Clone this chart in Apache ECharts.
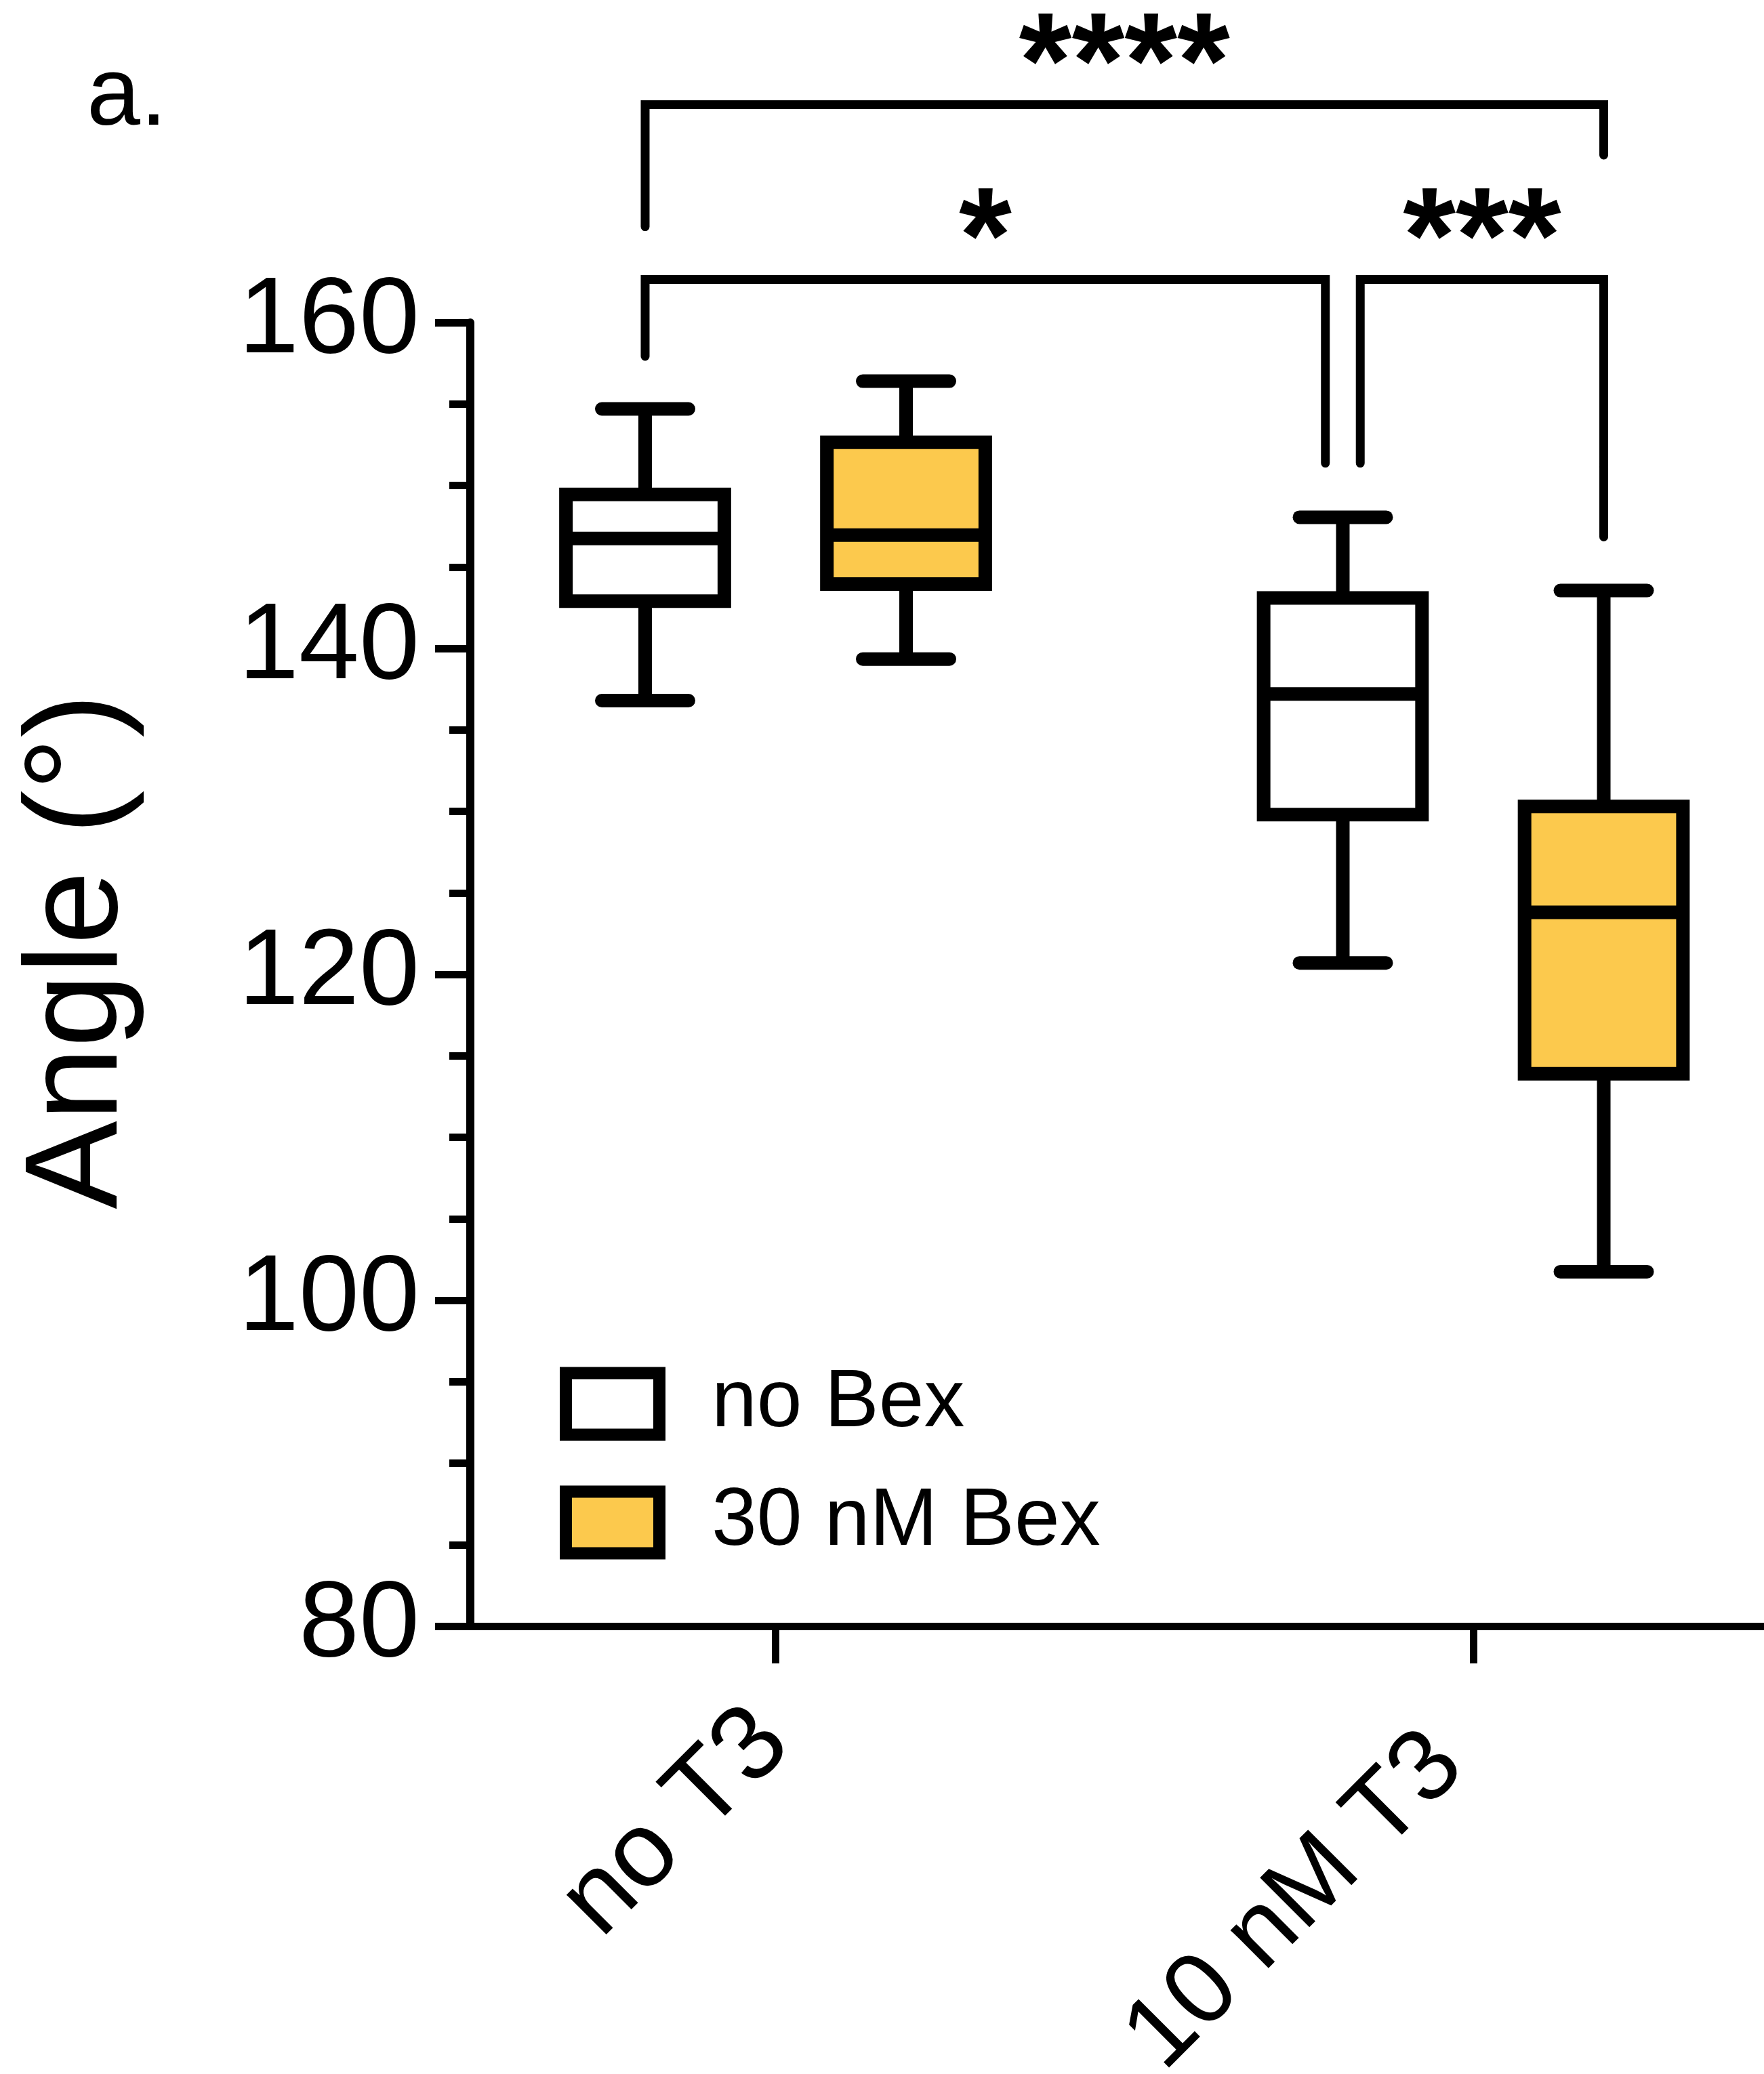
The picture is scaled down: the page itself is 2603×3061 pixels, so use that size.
<!DOCTYPE html>
<html>
<head>
<meta charset="utf-8">
<script src="https://cdn.jsdelivr.net/npm/echarts@6/dist/echarts.min.js"></script>
<style>
  html, body { margin: 0; padding: 0; background: #fff; }
  #chart { width: 2603px; height: 3061px; }
</style>
</head>
<body>
<div id="chart"></div>
<script>
// ---- Data ----
const categories = ['no T3', '10 nM T3'];
const categoryPos = [1, 3];
const seriesNames = ['no Bex', '30 nM Bex'];
// [min, Q1, median, Q3, max] per category
const noBex = [
  [136.8, 142.9, 146.75, 149.45, 154.7],
  [120.7, 129.8, 137.2, 143.1, 148.05]
];
const bex30 = [
  [139.35, 143.95, 146.95, 152.65, 156.4],
  [101.75, 113.9, 123.8, 130.3, 143.55]
];
const yMin = 80, yMax = 160, yStep = 20;

// significance brackets: endpoints reference [category, series]
const bracketFrom = [[0, 0], [0, 0], [1, 0]];
const bracketTo = [[1, 1], [1, 0], [1, 1]];
const bracketFromShift = [0, 0, 0.05];
const bracketToShift = [0, -0.05, 0];
const bracketBarY = [173.37, 162.64, 162.64];
const bracketFromEnd = [165.88, 157.92, 151.37];
const bracketToEnd = [170.27, 151.37, 146.84];
const bracketLabels = ['****', '*', '***'];
const bracketLabelY = [175.5, 164.8, 164.8];

// ---- Style ----
const FONT = 'Liberation Sans, Arial, Helvetica, sans-serif';
const YELLOW = '#FCC94D';
const fills = ['#FFFFFF', YELLOW];
const OFFSET = 0.374;
const HALF_W = 0.227;
const CAP_HALF = 0.1243;
const LW = 20;

function boxX(cat, s) { return categoryPos[cat] + (s === 0 ? -OFFSET : OFFSET); }

function makeBoxRender(sIdx) {
  return function (params, api) {
    const x = api.value(0) + (sIdx === 0 ? -OFFSET : OFFSET);
    const mn = api.value(1), q1 = api.value(2), md = api.value(3), q3 = api.value(4), mx = api.value(5);
    const line = (a, b, cap) => ({
      type: 'line',
      shape: { x1: a[0], y1: a[1], x2: b[0], y2: b[1] },
      style: { stroke: '#000', lineWidth: LW, lineCap: cap || 'butt' }
    });
    const tl = api.coord([x - HALF_W, q3]);
    const br = api.coord([x + HALF_W, q1]);
    return {
      type: 'group',
      children: [
        line(api.coord([x, q3]), api.coord([x, mx])),
        line(api.coord([x, q1]), api.coord([x, mn])),
        line(api.coord([x - CAP_HALF, mx]), api.coord([x + CAP_HALF, mx]), 'round'),
        line(api.coord([x - CAP_HALF, mn]), api.coord([x + CAP_HALF, mn]), 'round'),
        {
          type: 'rect',
          shape: { x: tl[0], y: tl[1], width: br[0] - tl[0], height: br[1] - tl[1] },
          style: { fill: fills[sIdx], stroke: '#000', lineWidth: LW, lineJoin: 'miter' }
        },
        line(api.coord([x - HALF_W, md]), api.coord([x + HALF_W, md]))
      ]
    };
  };
}

function bracketRender(params, api) {
  const i = api.value(2);
  const x1 = boxX(bracketFrom[i][0], bracketFrom[i][1]) + bracketFromShift[i];
  const x2 = boxX(bracketTo[i][0], bracketTo[i][1]) + bracketToShift[i];
  const pts = [
    api.coord([x1, bracketFromEnd[i]]),
    api.coord([x1, bracketBarY[i]]),
    api.coord([x2, bracketBarY[i]]),
    api.coord([x2, bracketToEnd[i]])
  ];
  const lab = api.coord([(x1 + x2) / 2, bracketLabelY[i]]);
  return {
    type: 'group',
    children: [
      {
        type: 'polyline',
        shape: { points: pts },
        style: { stroke: '#000', fill: null, lineWidth: 13, lineCap: 'round', lineJoin: 'miter' }
      },
      {
        type: 'text',
        style: {
          text: bracketLabels[i], x: lab[0], y: lab[1],
          align: 'center', verticalAlign: 'middle',
          font: 'bold 200px ' + FONT, fill: '#000'
        }
      }
    ]
  };
}

const chart = echarts.init(document.getElementById('chart'), null, { renderer: 'canvas' });

const labelStyle = { fontFamily: FONT, color: '#000' };

const option = {
  backgroundColor: '#fff',
  animation: false,
  grid: { left: 694, right: 0, top: 476, bottom: 661, outerBoundsMode: 'none', containLabel: false },
  xAxis: {
    type: 'value',
    min: 0.1248,
    max: 3.8334,
    splitLine: { show: false },
    axisLine: { show: true, lineStyle: { color: '#000', width: 11 } },
    axisTick: { show: true, customValues: categoryPos, length: 55, lineStyle: { color: '#000', width: 11 } },
    axisLabel: {
      show: true,
      customValues: categoryPos,
      formatter: function (v) {
        const k = categoryPos.indexOf(v);
        if (k < 0) return '';
        return '{c' + k + '|' + categories[k] + '}';
      },
      rich: {
        c0: Object.assign({ fontSize: 157, padding: [0, 6, 0, 0] }, labelStyle),
        c1: Object.assign({ fontSize: 150, padding: [0, 54, 0, 0] }, labelStyle)
      },
      rotate: 45,
      margin: 144,
      fontSize: 157,
      fontFamily: FONT,
      color: '#000'
    }
  },
  yAxis: {
    type: 'value',
    min: yMin, max: yMax, interval: yStep,
    splitLine: { show: false },
    axisLine: { show: true, lineStyle: { color: '#000', width: 12 } },
    axisTick: { show: true, length: 52, lineStyle: { color: '#000', width: 11 } },
    minorTick: { show: true, splitNumber: 4, length: 31, lineStyle: { color: '#000', width: 11 } },
    axisLabel: { margin: 75, fontSize: 160, fontFamily: FONT, color: '#000' }
  },
  legend: {
    data: seriesNames,
    orient: 'vertical',
    left: 826, top: 2012,
    padding: 0,
    itemWidth: 138, itemHeight: 91, itemGap: 55,
    icon: 'rect',
    selectedMode: false,
    itemStyle: { borderColor: '#000', borderWidth: 18 },
    textStyle: { fontSize: 120, fontFamily: FONT, color: '#000', lineHeight: 91, padding: [0, 0, 0, 72] }
  },
  graphic: [
    {
      type: 'text', x: 118, y: 1404, rotation: Math.PI / 2,
      style: { text: 'Angle (°)', align: 'center', verticalAlign: 'middle', font: '195px ' + FONT, fill: '#000' }
    },
    {
      type: 'text', x: 128, y: 145,
      style: { text: 'a.', align: 'left', verticalAlign: 'middle', font: '142px ' + FONT, fill: '#000' }
    }
  ],
  series: [
    {
      name: seriesNames[0], type: 'custom', clip: false,
      itemStyle: { color: fills[0], borderColor: '#000' },
      encode: { x: 0, y: [1, 2, 3, 4, 5] },
      data: noBex.map((d, i) => [categoryPos[i]].concat(d)),
      renderItem: makeBoxRender(0)
    },
    {
      name: seriesNames[1], type: 'custom', clip: false,
      itemStyle: { color: fills[1], borderColor: '#000' },
      encode: { x: 0, y: [1, 2, 3, 4, 5] },
      data: bex30.map((d, i) => [categoryPos[i]].concat(d)),
      renderItem: makeBoxRender(1)
    },
    {
      name: 'significance', type: 'custom', clip: false, silent: true,
      encode: { x: 0, y: 1 },
      data: bracketLabels.map((l, i) => [2, bracketBarY[i], i]),
      renderItem: bracketRender
    }
  ]
};
chart.setOption(option);
</script>
</body>
</html>
